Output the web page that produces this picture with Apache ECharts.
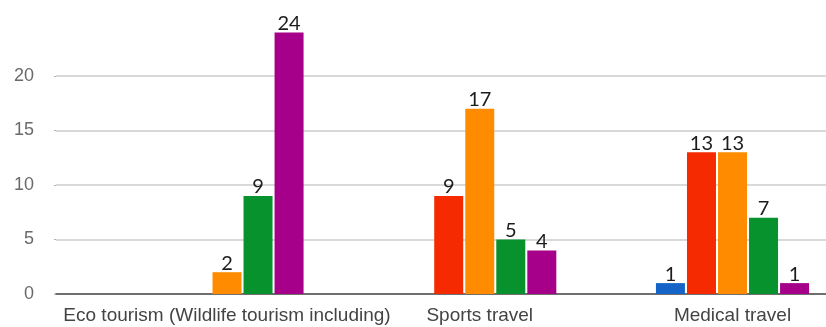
<!DOCTYPE html>
<html>
<head>
<meta charset="utf-8">
<style>
  html, body { margin: 0; padding: 0; background: #ffffff; }
  #chart { width: 826px; height: 327px; }
</style>
<script src="https://cdn.jsdelivr.net/npm/echarts@6/dist/echarts.min.js"></script>
</head>
<body>
<div id="chart"></div>
<script>
// Travel categories on the horizontal axis
const categories = ['Eco tourism (Wildlife tourism including)', 'Sports travel', 'Medical travel'];

// One series per response level, in drawing order
const seriesBlue   = [0, 0, 1];
const seriesRed    = [0, 9, 13];
const seriesOrange = [2, 17, 13];
const seriesGreen  = [9, 5, 7];
const seriesPurple = [24, 4, 1];

const seriesColors = ['#1565c8', '#f52a00', '#ff8c00', '#07922e', '#a6008a'];
const allSeries = [seriesBlue, seriesRed, seriesOrange, seriesGreen, seriesPurple];

// Value-axis range and tick step
const yMin = 0;
const yMax = 25;
const yStep = 5;

const chart = echarts.init(document.getElementById('chart'), null, { renderer: 'canvas' });

const gridTop = 21.5;
const gridBottom = 33;

chart.setOption({
  animation: false,
  backgroundColor: '#ffffff',
  grid: [
    // background frame: gridlines, y labels and the baseline
    { left: 56, right: 0, top: gridTop, bottom: gridBottom, containLabel: false },
    // bar area: categories sit on the tick points from the first group to the last
    { left: 227, right: 93.5, top: gridTop, bottom: gridBottom, containLabel: false }
  ],
  xAxis: [
    {
      gridIndex: 0, type: 'value', min: 0, max: 1,
      axisLine: { show: true, lineStyle: { color: '#6f6f6f', width: 2 } },
      axisTick: { show: false }, axisLabel: { show: false }, splitLine: { show: false }
    },
    {
      gridIndex: 1, type: 'category', data: categories, boundaryGap: false,
      axisLine: { show: false }, axisTick: { show: false },
      axisLabel: {
        color: '#444444', fontFamily: 'Liberation Sans, Arial, sans-serif',
        fontSize: 19, margin: 12, interval: 0
      }
    }
  ],
  yAxis: [
    {
      gridIndex: 0, type: 'value', min: yMin, max: yMax, interval: yStep,
      axisLine: { show: false },
      axisTick: { show: true, length: 2, lineStyle: { color: '#b0b0b0', width: 1 } },
      axisLabel: {
        color: '#6a6a6a', fontFamily: 'Liberation Sans, Arial, sans-serif',
        fontSize: 18, margin: 22, showMaxLabel: false
      },
      splitLine: { show: true, showMaxLine: false, lineStyle: { color: '#d9d9d9', width: 2 } }
    },
    {
      gridIndex: 1, type: 'value', min: yMin, max: yMax, interval: yStep, show: false,
      splitLine: { show: false }
    }
  ],
  series: allSeries.map((values, i) => ({
    type: 'bar',
    xAxisIndex: 1,
    yAxisIndex: 1,
    data: values,
    clip: false,
    barWidth: 29,
    barGap: '7%',
    itemStyle: { color: seriesColors[i] },
    label: {
      show: true,
      position: 'top',
      distance: -1,
      color: '#1c1c1c',
      fontFamily: 'Lato, Noto Sans, sans-serif',
      fontSize: 20,
      formatter: p => (p.value === 0 ? '' : String(p.value))
    }
  }))
});
</script>
</body>
</html>
